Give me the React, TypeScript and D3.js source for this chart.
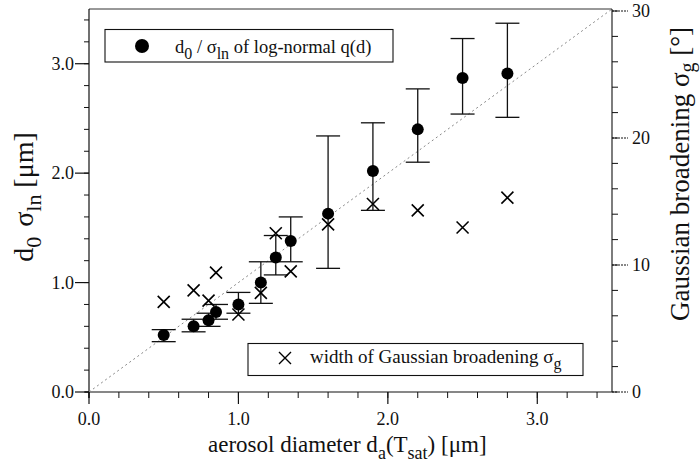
import React from "react";
import * as d3 from "d3";

// ---- data ----
const diam = [0.5, 0.7, 0.8, 0.85, 1.0, 1.15, 1.25, 1.35, 1.6, 1.9, 2.2, 2.5, 2.8];
const d0Values = [0.52, 0.6, 0.655, 0.73, 0.8, 1.0, 1.23, 1.38, 1.63, 2.02, 2.4, 2.87, 2.91];
const errLow = [0.46, 0.55, 0.6, 0.665, 0.72, 0.81, 1.07, 1.19, 1.13, 1.66, 2.1, 2.54, 2.51];
const errHigh = [0.57, 0.665, 0.72, 0.8, 0.91, 1.19, 1.43, 1.6, 2.34, 2.46, 2.77, 3.23, 3.37];
const sigmaG = [7.1, 8.0, 7.2, 9.4, 6.1, 7.8, 12.5, 9.5, 13.2, 14.8, 14.3, 12.95, 15.3];

const xMajor = [0, 1, 2, 3];
const xMajorLabels = ["0.0", "1.0", "2.0", "3.0"];
const yMajor = [0, 1, 2, 3];
const yMajorLabels = ["0.0", "1.0", "2.0", "3.0"];
const yRMajor = [0, 10, 20, 30];
const yRMajorLabels = ["0", "10", "20", "30"];

const FONT = "'Liberation Serif', 'Times New Roman', serif";

export default function App() {
  const L = 89, R = 612, T = 9, B = 392;
  const x = d3.scaleLinear().domain([0, 3.5]).range([L, R]);
  const y = d3.scaleLinear().domain([0, 3.5]).range([B, T]);
  const yR = d3.scaleLinear().domain([0, 30]).range([B, 11]);

  const xMinor = d3.range(0, 3.45, 0.2);
  const yMinor = d3.range(0, 3.45, 0.2);
  const yRMinor = d3.range(0, 30.1, 2);

  const cap = 12;
  const cs = 6;
  const crossPath = (cx: number, cy: number, s: number) =>
    `M${cx - s},${cy - s}L${cx + s},${cy + s}M${cx - s},${cy + s}L${cx + s},${cy - s}`;

  const diag = d3.line<[number, number]>().x(d => x(d[0])).y(d => y(d[1]));

  return (
    <svg width={700} height={466} style={{ position: "absolute", left: 0, top: 0, background: "#fff" }}
      fontFamily={FONT}>
      <rect x={0} y={0} width={700} height={466} fill="#fff" />
      {/* frame */}
      <line x1={L} x2={R} y1={T} y2={T} stroke="#333" strokeWidth={1} />
      <line x1={L} x2={L} y1={T} y2={B + 6} stroke="#111" strokeWidth={1.2} />
      <line x1={L - 4} x2={R} y1={B} y2={B} stroke="#111" strokeWidth={1.2} />
      <line x1={R} x2={R} y1={T} y2={B} stroke="#111" strokeWidth={1.1} />

      {/* diagonal */}
      <path d={diag([[0, 0], [3.5, 3.5]]) || ""} stroke="#888" strokeWidth={1} strokeDasharray="2,3" fill="none" />

      {/* bottom ticks */}
      {xMinor.map((v, i) => (
        <line key={"xm" + i} x1={x(v)} x2={x(v)} y1={B} y2={B + 6} stroke="#111" strokeWidth={1} />
      ))}
      {xMajor.map((v, i) => (
        <g key={"xM" + i}>
          <line x1={x(v)} x2={x(v)} y1={B} y2={B + 12} stroke="#111" strokeWidth={1.2} />
          <text x={x(v)} y={425} fontSize={18} textAnchor="middle" fill="#111">{xMajorLabels[i]}</text>
        </g>
      ))}

      {/* left ticks */}
      {yMinor.map((v, i) => (
        <line key={"ym" + i} x1={L - 5} x2={L} y1={y(v)} y2={y(v)} stroke="#111" strokeWidth={1} />
      ))}
      {yMajor.map((v, i) => (
        <g key={"yM" + i}>
          <line x1={L - 14} x2={L} y1={y(v)} y2={y(v)} stroke="#111" strokeWidth={1.2} />
          <text x={L - 15} y={y(v) + 6} fontSize={18} textAnchor="end" fill="#111">{yMajorLabels[i]}</text>
        </g>
      ))}

      {/* right ticks */}
      {yRMinor.map((v, i) => (
        <line key={"yrm" + i} x1={R} x2={R + 6} y1={yR(v)} y2={yR(v)} stroke="#111" strokeWidth={1} />
      ))}
      {yRMajor.map((v, i) => (
        <g key={"yrM" + i}>
          <line x1={R} x2={R + 16} y1={yR(v)} y2={yR(v)} stroke="#111" strokeWidth={1} strokeDasharray="2,1" />
          <text x={R + 20} y={yR(v) + 6} fontSize={18} textAnchor="start" fill="#111">{yRMajorLabels[i]}</text>
        </g>
      ))}

      {/* error bars + circles */}
      {diam.map((v, i) => (
        <g key={"c" + i} stroke="#111" strokeWidth={1.3}>
          <line x1={x(v)} x2={x(v)} y1={y(errLow[i])} y2={y(errHigh[i])} />
          <line x1={x(v) - cap} x2={x(v) + cap} y1={y(errLow[i])} y2={y(errLow[i])} />
          <line x1={x(v) - cap} x2={x(v) + cap} y1={y(errHigh[i])} y2={y(errHigh[i])} />
        </g>
      ))}
      {diam.map((v, i) => (
        <circle key={"p" + i} cx={x(v)} cy={y(d0Values[i])} r={6} fill="#000" />
      ))}
      {diam.map((v, i) => (
        <path key={"x" + i} d={crossPath(x(v), yR(sigmaG[i]), cs)} stroke="#000" strokeWidth={1.6} fill="none" />
      ))}

      {/* legend 1 */}
      <rect x={105} y={29.5} width={288} height={32.5} fill="#fff" stroke="#111" strokeWidth={1.1} />
      <circle cx={142} cy={46} r={7} fill="#000" />
      <text x={175} y={53} fontSize={18.5} fill="#111">
        d<tspan dy={6} fontSize={16}>0</tspan>
        <tspan dy={-6}> / σ</tspan>
        <tspan dy={6} fontSize={16}>ln</tspan>
        <tspan dy={-6}> of log-normal q(d)</tspan>
      </text>

      {/* legend 2 */}
      <rect x={248} y={343.5} width={335} height={32} fill="#fff" stroke="#111" strokeWidth={1.1} />
      <path d={crossPath(285, 358, 6)} stroke="#000" strokeWidth={1.4} fill="none" />
      <text x={310} y={363} fontSize={19} fill="#111">
        width of Gaussian broadening σ<tspan dy={6} fontSize={16}>g</tspan>
      </text>

      {/* axis titles */}
      <text x={208} y={452} fontSize={23} fill="#111">
        aerosol diameter d<tspan dy={7} fontSize={18}>a</tspan>
        <tspan dy={-7}>(T</tspan>
        <tspan dy={7} fontSize={18}>sat</tspan>
        <tspan dy={-7}>) [μm]</tspan>
      </text>

      <text transform="translate(33,197) rotate(-90)" textAnchor="middle" fontSize={28} fill="#111">
        d<tspan dy={8} fontSize={22}>0</tspan>
        <tspan dy={-8} dx={10}>σ</tspan>
        <tspan dy={8} fontSize={22}>ln</tspan>
        <tspan dy={-8}> [μm]</tspan>
      </text>

      <text transform="translate(689,174) rotate(-90)" textAnchor="middle" fontSize={27} fill="#111">
        Gaussian broadening σ<tspan dy={5} fontSize={20}>g</tspan>
        <tspan dy={-5}> [°]</tspan>
      </text>
    </svg>
  );
}
